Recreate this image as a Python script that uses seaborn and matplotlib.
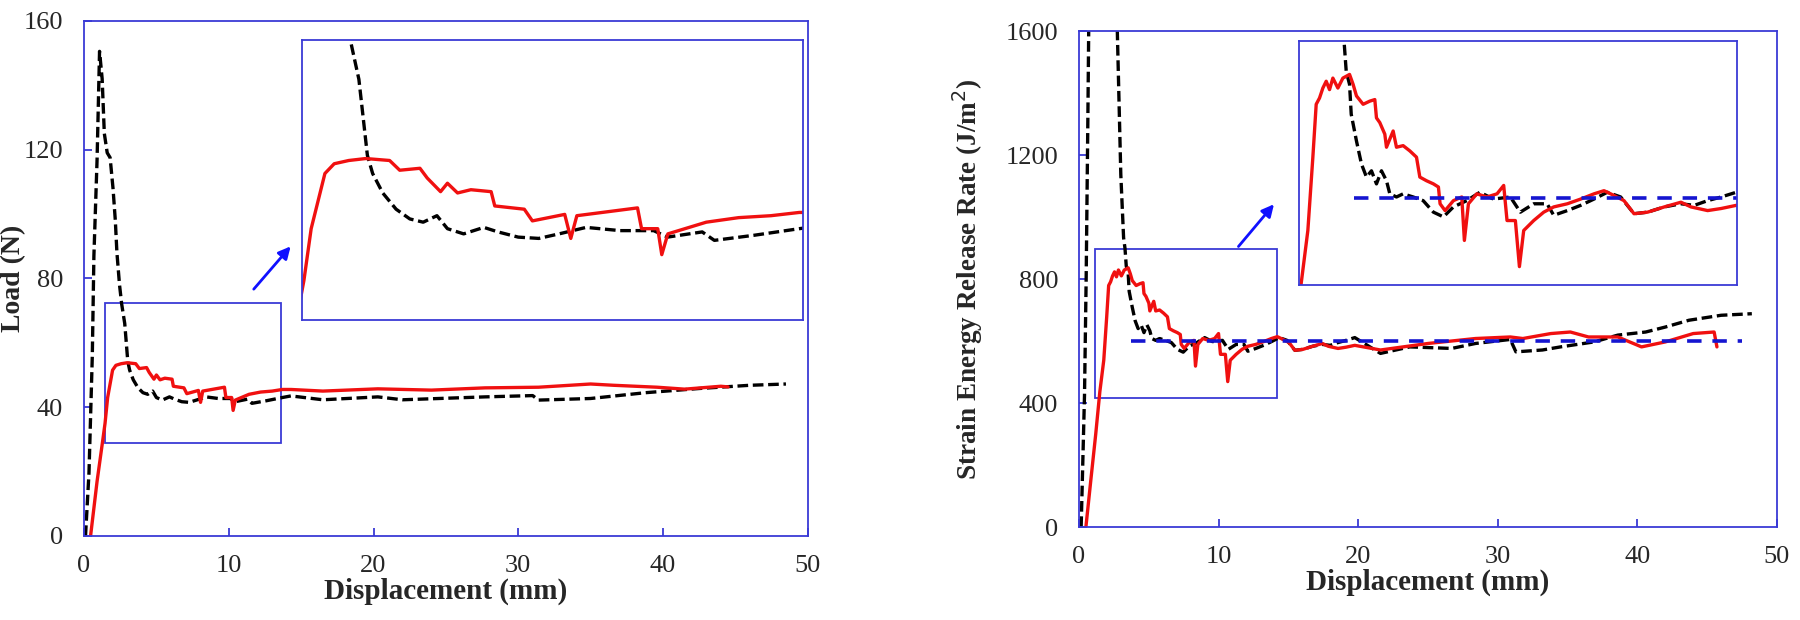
import matplotlib; matplotlib.use('Agg')
import numpy as np
import pandas as pd
import matplotlib.pyplot as plt
import seaborn as sns
from matplotlib.patches import Rectangle

# ---- data ----
# Load vs displacement, red (solid) specimen
load_red_x = [0.45, 0.9, 1.3, 1.45, 1.63, 1.97, 2.2, 2.56, 2.98, 3.57,
              3.82, 4.32, 4.5, 4.83, 5.0, 5.25, 5.58, 6.08, 6.17, 6.9,
              7.1, 7.9, 8.05, 8.2, 9.7, 9.8, 10.2, 10.3, 10.45, 11.4,
              12.2, 13.0, 13.7, 14.3, 16.5, 20.3, 24.0, 27.7, 31.4, 35.0,
              36.6, 39.6, 41.5, 44.0, 44.5]
load_red_y = [0, 17, 30, 35, 43, 51.5, 53, 53.5, 53.8, 53.5,
              52, 52.3, 50.8, 48.7, 50, 48.5, 49, 48.7, 46.5, 46,
              44.2, 45.2, 41.5, 45, 46.2, 43, 43, 39, 42.2, 44,
              44.7, 45, 45.5, 45.5, 45, 45.7, 45.3, 46, 46.2, 47.2,
              46.8, 46.2, 45.6, 46.5, 46.3]

# Load vs displacement, black (dashed) specimen
load_blk_x = [0.1, 0.34, 0.57, 0.68, 0.9, 1.07, 1.25, 1.4, 1.6, 1.8,
              2.0, 2.16, 2.27, 2.45, 2.6, 2.81, 2.9, 3.02, 3.15, 3.4,
              3.73, 4.07, 4.4, 4.74, 5.0, 5.4, 5.9, 6.25, 6.75, 7.26,
              7.76, 8.43, 9.27, 10.1, 10.44, 11.3, 11.6, 12.6, 13.7, 14.3,
              16.5, 20.3, 22.0, 27.7, 31.0, 31.4, 35.0, 38.8, 42.5, 46.0, 48.5]
load_blk_y = [0, 19.6, 56, 87, 117, 150.5, 142, 125, 119, 117.5,
              108, 98, 88, 78, 72, 66, 61, 54.3, 51.5, 48.5,
              46, 44.5, 44, 45, 43, 42.2, 43.2, 42.5, 41.7, 41.5,
              42.2, 43.2, 42.7, 42.7, 41.7, 42.5, 41.2, 42, 43, 43.5,
              42.3, 43.2, 42.3, 43.2, 43.6, 42.2, 42.7, 44.5, 45.8, 46.8, 47.2]

# Strain energy release rate, red specimen
g_red_x = [0.5, 0.85, 1.2, 1.5, 1.78, 1.99, 2.13, 2.27, 2.41, 2.55, 2.69,
           2.83, 3.04, 3.25, 3.53, 3.68, 3.82, 4.1, 4.38, 4.59, 4.66,
           4.8, 5.01, 5.08, 5.36, 5.5, 5.78, 6.06, 6.34, 6.48, 6.76,
           7.05, 7.26, 7.33, 7.54, 7.89, 8.24, 8.35, 8.52, 8.87, 9.3,
           9.72, 10.0, 10.14, 10.49, 10.66, 10.84, 11.26, 11.68, 12.1, 12.67,
           13.23, 13.79, 14.21, 14.49, 15.05, 15.47, 16.04, 16.74, 17.44, 17.86,
           18.56, 19.13, 19.76, 21.6, 25.0, 28.4, 30.9, 31.8, 33.8, 35.2,
           36.5, 38.6, 40.3, 42.0, 44.0, 45.5, 45.7]
g_red_y = [0, 150, 298, 437, 538, 678, 779, 791, 810, 823, 807,
           829, 810, 829, 836, 817, 795, 779, 785, 788, 753,
           744, 722, 697, 728, 697, 700, 690, 678, 640, 633,
           627, 621, 589, 576, 595, 602, 519, 589, 608, 602,
           608, 624, 557, 557, 469, 538, 557, 573, 583, 589,
           598, 608, 614, 608, 595, 570, 573, 583, 592, 583,
           576, 580, 586, 571, 592, 608, 613, 608, 624, 629,
           613, 613, 581, 597, 624, 629, 581]

# Strain energy release rate, black specimen
g_blk_x = [0.16, 0.4, 0.52, 0.64, 0.7, 1.0, 1.2, 2.0, 2.75, 2.87,
           3.0, 3.2, 3.3, 3.39, 3.53, 3.6, 3.82, 4.03, 4.24, 4.45,
           4.66, 4.87, 5.08, 5.22, 5.5, 5.78, 6.2, 6.62, 7.05, 7.47,
           7.89, 8.45, 9.0, 9.57, 10.28, 10.7, 11.26, 11.82, 12.1, 12.67,
           13.23, 13.79, 14.35, 14.91, 15.47, 16.04, 16.74, 17.44, 18.0, 18.56,
           19.13, 19.76, 21.6, 23.7, 26.7, 28.4, 30.9, 31.3, 33.2, 34.5,
           36.9, 38.6, 40.6, 42.0, 43.7, 46.0, 48.2]
g_blk_y = [0, 425, 806, 1314, 1600, 2600, 2900, 2300, 1600, 1378,
           1137, 933, 899, 842, 817, 760, 709, 665, 640, 652,
           627, 652, 633, 608, 602, 608, 602, 595, 573, 564,
           583, 595, 611, 598, 602, 573, 589, 589, 567, 576,
           586, 598, 611, 602, 570, 573, 583, 589, 586, 595,
           602, 611, 560, 581, 576, 592, 605, 565, 571, 581,
           597, 619, 629, 645, 667, 683, 688]

# average G line
g_avg = 600
g_avg_x = [3.7, 47.5]

BLUE = '#3a3ad6'
RED = '#f01010'

sns.set_style('white')
plt.rcParams['font.family'] = ['Liberation Serif', 'DejaVu Serif']


def frame(ax, lw=1.3):
    for s in ax.spines.values():
        s.set_color(BLUE)
        s.set_linewidth(lw)
        s.set_visible(True)


def curves(ax, rx, ry, bx, by):
    sns.lineplot(x=bx, y=by, ax=ax, color='black', lw=2.4, linestyle=(0, (3.2, 1.4)),
                 estimator=None, sort=False, legend=False)
    sns.lineplot(x=rx, y=ry, ax=ax, color=RED, lw=2.4,
                 estimator=None, sort=False, legend=False)


fig = plt.figure(figsize=(18, 6.2), dpi=100)
ax1 = fig.add_axes([0.0467, 0.1355, 0.402, 0.831])
ax2 = fig.add_axes([0.5994, 0.150, 0.3878, 0.800])

# ---- left: load ----
curves(ax1, load_red_x, load_red_y, load_blk_x, load_blk_y)
ax1.set_xlim(0, 50)
ax1.set_ylim(0, 160)
ax1.set_xticks([0, 10, 20, 30, 40, 50])
ax1.set_yticks([0, 40, 80, 120, 160])
ax1.set_ylabel('Load (N)', fontsize=20, fontweight='bold')
ax1.yaxis.set_label_coords(-0.08, 0.5)

box1 = (1.48, 28.8, 12.1, 43.7)
ax1.add_patch(Rectangle(box1[:2], box1[2], box1[3], fill=False, ec=BLUE, lw=1.3))
ax1.annotate('', xy=(14.4, 90.6), xytext=(11.6, 76),
             arrowprops=dict(arrowstyle='-|>', color='#1010ff', lw=2, mutation_scale=18))

ins1 = ax1.inset_axes([0.301, 0.42, 0.693, 0.542])
curves(ins1, load_red_x, load_red_y, load_blk_x, load_blk_y)
ins1.set_xlim(1.4, 13.8)
ins1.set_ylim(29, 72)

# ---- right: strain energy release rate ----
curves(ax2, g_red_x, g_red_y, g_blk_x, g_blk_y)
ax2.plot(g_avg_x, [g_avg, g_avg], color='#1515d0', lw=2.6, linestyle=(0, (4, 3)))
ax2.set_xlim(0, 50)
ax2.set_ylim(0, 1600)
ax2.set_xticks([0, 10, 20, 30, 40, 50])
ax2.set_yticks([0, 400, 800, 1200, 1600])
ax2.set_ylabel('Strain Energy Release Rate (J/m$^2$)', fontsize=19.5, fontweight='bold')
ax2.yaxis.set_label_coords(-0.135, 0.5)

box2 = (1.15, 415, 13.05, 483)
ax2.add_patch(Rectangle(box2[:2], box2[2], box2[3], fill=False, ec=BLUE, lw=1.3))
ax2.annotate('', xy=(14.1, 1048), xytext=(11.3, 898),
             arrowprops=dict(arrowstyle='-|>', color='#1010ff', lw=2, mutation_scale=18))

ins2 = ax2.inset_axes([0.315, 0.488, 0.628, 0.492])
curves(ins2, g_red_x, g_red_y, g_blk_x, g_blk_y)
ins2.plot(g_avg_x, [g_avg, g_avg], color='#1515d0', lw=2.6, linestyle=(0, (4, 3)))
ins2.set_xlim(1.4, 19.8)
ins2.set_ylim(434, 900)

for ax in (ax1, ax2):
    frame(ax)
    ax.set_xlabel('Displacement (mm)', fontsize=21, fontweight='bold', labelpad=0)
    ax.tick_params(axis='both', direction='in', length=6, width=1.3, color=BLUE,
                   labelsize=19, bottom=True, left=True, top=False, right=False)
    ax.tick_params(axis='x', pad=14)
    ax.tick_params(axis='y', pad=15)

for ins in (ins1, ins2):
    frame(ins)
    ins.set_xticks([])
    ins.set_yticks([])
    ins.set_xlabel('')
    ins.set_ylabel('')

fig.savefig('out.png', dpi=100)
